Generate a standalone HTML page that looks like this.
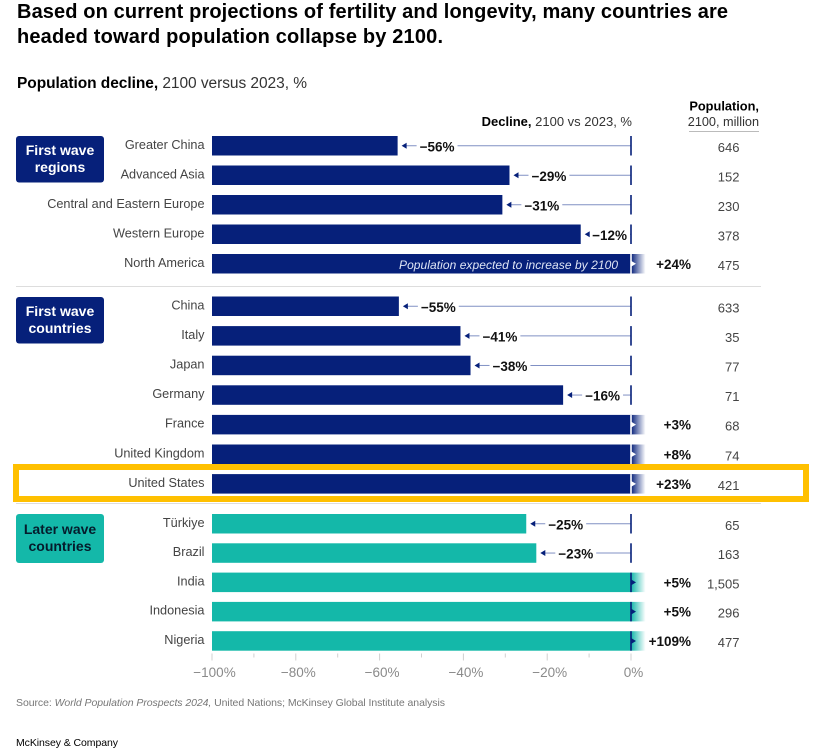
<!DOCTYPE html>
<html lang="en">
<head>
<meta charset="utf-8">
<title>Population decline chart</title>
<style>
html,body{margin:0;padding:0;background:#fff;width:817px;height:749px;overflow:hidden}
svg{display:block;font-family:"Liberation Sans",sans-serif}
</style>
</head>
<body>
<svg id="chart" width="817" height="749" viewBox="0 0 817 749" xmlns="http://www.w3.org/2000/svg">
<defs>
<linearGradient id="fadeNavy" x1="0" x2="1" y1="0" y2="0"><stop offset="0" stop-color="#06207a"/><stop offset="1" stop-color="#06207a" stop-opacity="0"/></linearGradient>
<linearGradient id="fadeTeal" x1="0" x2="1" y1="0" y2="0"><stop offset="0" stop-color="#14b8a9"/><stop offset="1" stop-color="#14b8a9" stop-opacity="0"/></linearGradient>
</defs>
<text x="17" y="18" font-size="20" font-weight="bold" fill="#000" textLength="711" lengthAdjust="spacing">Based on current projections of fertility and longevity, many countries are</text>
<text x="17" y="43" font-size="20" font-weight="bold" fill="#000" textLength="426" lengthAdjust="spacing">headed toward population collapse by 2100.</text>
<text x="17" y="88" font-size="15.5" fill="#333" textLength="290" lengthAdjust="spacing"><tspan font-weight="bold" fill="#000">Population decline,</tspan> 2100 versus 2023, %</text>
<text x="632" y="126" font-size="13" fill="#333" text-anchor="end"><tspan font-weight="bold" fill="#000">Decline,</tspan> 2100 vs 2023, %</text>
<text x="759" y="110.5" font-size="12.8" font-weight="bold" fill="#000" text-anchor="end">Population,</text>
<text x="759" y="126" font-size="12.7" fill="#333" text-anchor="end">2100, million</text>
<line x1="689" x2="759" y1="131.5" y2="131.5" stroke="#bbb" stroke-width="1"/>
<line x1="16" x2="761" y1="286.5" y2="286.5" stroke="#ddd" stroke-width="1"/>
<line x1="16" x2="761" y1="503.5" y2="503.5" stroke="#ddd" stroke-width="1"/>
<rect x="16" y="467" width="790" height="32" fill="#fff" stroke="#ffc000" stroke-width="6"/>
<g>
<rect x="16" y="136" width="88" height="46.500" rx="3" fill="#06207a"/>
<text x="60" y="155" font-size="14" font-weight="bold" fill="#fff" text-anchor="middle">First wave</text>
<text x="60" y="172" font-size="14" font-weight="bold" fill="#fff" text-anchor="middle">regions</text>
</g>
<g>
<rect x="16" y="297" width="88" height="46.500" rx="3" fill="#06207a"/>
<text x="60" y="316" font-size="14" font-weight="bold" fill="#fff" text-anchor="middle">First wave</text>
<text x="60" y="333" font-size="14" font-weight="bold" fill="#fff" text-anchor="middle">countries</text>
</g>
<g>
<rect x="16" y="514" width="88" height="49" rx="3" fill="#14b8a9"/>
<text x="60" y="534" font-size="14" font-weight="bold" fill="#051c2c" text-anchor="middle">Later wave</text>
<text x="60" y="551" font-size="14" font-weight="bold" fill="#051c2c" text-anchor="middle">countries</text>
</g>
<g id="rows"></g>
<g id="axis"></g>
<text x="618" y="269" font-size="12" font-style="italic" fill="#dfe5f5" text-anchor="end" textLength="219" lengthAdjust="spacing">Population expected to increase by 2100</text>
<text x="16" y="706" font-size="10.5" fill="#777" textLength="429" lengthAdjust="spacing">Source: <tspan font-style="italic">World Population Prospects 2024,</tspan> United Nations; McKinsey Global Institute analysis</text>
<text x="16" y="746" font-size="10.5" fill="#000" textLength="102" lengthAdjust="spacing">McKinsey &amp; Company</text>
</svg>
<script>
const regionNames = ["Greater China", "Advanced Asia", "Central and Eastern Europe", "Western Europe", "North America"];
const regionChange = [-55.7, -29, -30.7, -12, 24];
const regionPopulation = ["646", "152", "230", "378", "475"];
const countryNames = ["China", "Italy", "Japan", "Germany", "France", "United Kingdom", "United States"];
const countryChange = [-55.4, -40.7, -38.3, -16.2, 3, 8, 23];
const countryPopulation = ["633", "35", "77", "71", "68", "74", "421"];
const laterNames = ["Türkiye", "Brazil", "India", "Indonesia", "Nigeria"];
const laterChange = [-25, -22.6, 5, 5, 109];
const laterPopulation = ["65", "163", "1,505", "296", "477"];
const axisTicks = [-100, -90, -80, -70, -60, -50, -40, -30, -20, -10, 0];

const NS = "http://www.w3.org/2000/svg";
const NAVY = "#06207a";
const TEAL = "#14b8a9";
const LINE = "#8090c4";
const rowsEl = document.getElementById("rows");
const axisEl = document.getElementById("axis");

function xScale(v) { return 631 + v * 4.19; }

function make(parent, tag, attrs, text) {
  const el = document.createElementNS(NS, tag);
  for (const k in attrs) el.setAttribute(k, attrs[k]);
  if (text !== undefined) el.textContent = text;
  parent.appendChild(el);
  return el;
}

function fmtChange(v) { return (v < 0 ? "\u2212" : "+") + Math.round(Math.abs(v)) + "%"; }

function drawRow(name, change, pop, top, color, fade) {
  const key = name.toLowerCase().replace(/[^a-z]+/g, "-");
  const g = make(rowsEl, "g", {});
  
  
  const h = 19.5, cy = top + h / 2;

  const label = make(g, "text", { x: 204.5, y: cy + 3, "font-size": 12.7, fill: "#444", "text-anchor": "end" }, name);
  
  

  const end = xScale(Math.min(change, 0));
  const bar = make(g, "rect", { x: xScale(-100), y: top, width: end - xScale(-100), height: h, fill: color });
  
  

  if (change < 0) {
    const val = make(g, "text", { x: 0, y: cy + 5.5, "font-size": 13.5, "font-weight": "bold", fill: "#111" }, fmtChange(change));
    
    
    const w = val.getComputedTextLength();
    const lx = Math.min(end + 22, 627 - w);
    val.setAttribute("x", lx);
    const ay = cy;
    const stem = make(g, "line", { x1: end + 8, x2: lx - 3, y1: ay, y2: ay, stroke: LINE, "stroke-width": 1 });
    
    
    const head = make(g, "path", { d: "M" + (end + 4) + " " + ay + "l5 -3v6z", fill: NAVY });
    
    
    const conn = make(g, "line", { x1: lx + w + 3, x2: 631, y1: ay, y2: ay, stroke: LINE, "stroke-width": 1 });
    
    
    const zero = make(g, "rect", { x: 630.2, y: top, width: 1.6, height: h, fill: NAVY });
    
    
  } else {
    const tail = make(g, "rect", { x: 631, y: top, width: 14.5, height: h, fill: "url(#" + fade + ")" });
    
    
    const mark = color === TEAL ? NAVY : "#fff";
    const zero = make(g, "rect", { x: 630.2, y: top, width: 1.6, height: h, fill: mark });
    
    
    const head = make(g, "path", { d: "M636 " + cy + "l-5 -3v6z", fill: mark });
    
    
    const val = make(g, "text", { x: 691, y: cy + 5, "font-size": 13.5, "font-weight": "bold", fill: "#111", "text-anchor": "end" }, fmtChange(change));
    
    
  }

  const p = make(g, "text", { x: 739.5, y: cy + 6, "font-size": 13, fill: "#444", "text-anchor": "end" }, pop);
  
  
}

function drawGroup(names, changes, pops, top, step, color, fade) {
  names.forEach(function (n, i) {
    drawRow(n, changes[i], pops[i], top + i * step, color, fade);
  });
}

drawGroup(regionNames, regionChange, regionPopulation, 136, 29.5, NAVY, "fadeNavy");
drawGroup(countryNames, countryChange, countryPopulation, 296.5, 29.6, NAVY, "fadeNavy");
drawGroup(laterNames, laterChange, laterPopulation, 514, 29.3, TEAL, "fadeTeal");

axisTicks.forEach(function (t) {
  const major = t % 20 === 0;
  const x = xScale(t);
  const tick = make(axisEl, "line", { x1: x, x2: x, y1: 653.5, y2: major ? 660.5 : 657.5, stroke: "#d0d0d0", "stroke-width": 1 });
  
  
  if (major) {
    const lab = make(axisEl, "text", { x: x + 2.5, y: 677, "font-size": 13.5, fill: "#8a8a8a", "text-anchor": "middle" }, (t < 0 ? "\u2212" + (-t) : t) + "%");
    
    
  }
});
</script>
</body>
</html>
